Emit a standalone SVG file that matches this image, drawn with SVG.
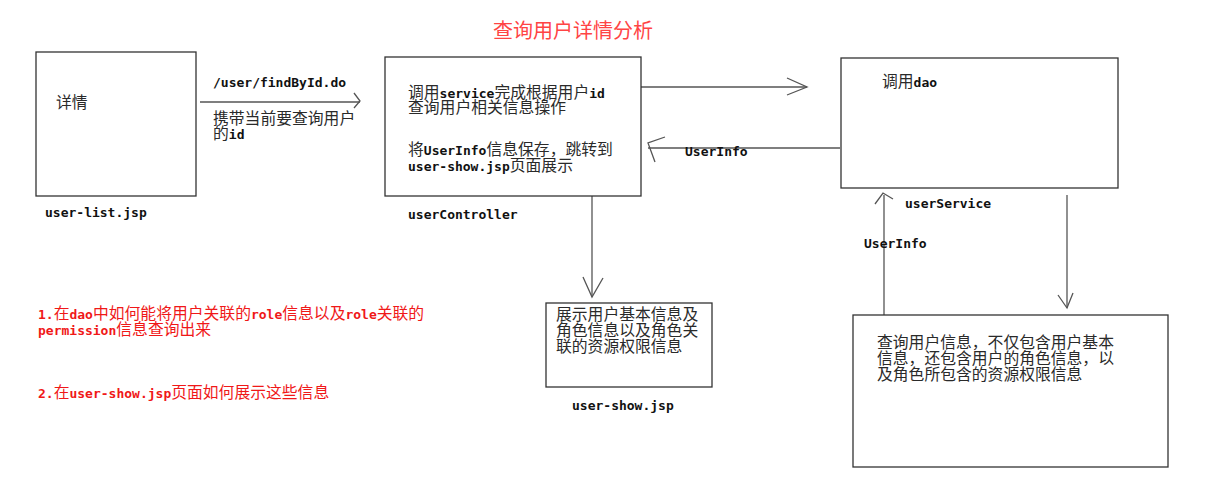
<svg xmlns="http://www.w3.org/2000/svg" width="1205" height="489" viewBox="0 0 1205 489">
<style>
.box{fill:#fff;stroke:#333;stroke-width:1.3}
.ln{fill:none;stroke:#555;stroke-width:1.3}
.cn{font-family:"Noto Sans CJK SC","DejaVu Sans",sans-serif;font-size:15.8px;fill:#2a2a2a}
.m{font-family:"DejaVu Sans Mono","Liberation Mono",monospace;font-weight:bold;font-size:13px;fill:#111}
.red{fill:#f01818}
.mr{font-family:"DejaVu Sans Mono","Liberation Mono",monospace;font-weight:bold;font-size:13px}
</style>
<rect width="1205" height="489" fill="#fff"/>
<text x="493" y="38" font-family="'Noto Sans CJK SC',sans-serif" font-size="20" fill="#f44">查询用户详情分析</text>
<g id="connectors">
<line class="ln" x1="200" y1="102" x2="360" y2="102"/>
<polyline class="ln" points="354,93 360,101 354,108"/>
<line class="ln" x1="641" y1="87" x2="807" y2="87"/>
<polyline class="ln" points="787,78 807,87 787,95"/>
<line class="ln" x1="648" y1="148" x2="840" y2="148"/>
<polyline class="ln" points="665,137 648,143 655,162"/>
<line class="ln" x1="592" y1="186" x2="592" y2="297"/>
<polyline class="ln" points="583,277 592,297 603,278"/>
<line class="ln" x1="884" y1="315" x2="884" y2="195"/>
<polyline class="ln" points="875,204 883,193 893,199"/>
<line class="ln" x1="1067" y1="195" x2="1067" y2="308"/>
<polyline class="ln" points="1058,295 1067,308 1073,293"/>
<text class="m" x="213" y="87">/user/findById.do</text>
<text class="cn" x="213" y="124">携带当前要查询用户</text>
<text x="213" y="139"><tspan class="cn">的</tspan><tspan class="m">id</tspan></text>
<text class="m" x="685" y="156" fill="#333">UserInfo</text>
<text class="m" x="864" y="248">UserInfo</text>
</g>
<g id="user-list">
<rect class="box" x="36" y="52" width="160" height="144"/>
<text class="cn" x="56" y="108">详情</text>
<text class="m" x="45" y="217">user-list.jsp</text>
</g>
<g id="userController">
<rect class="box" x="385" y="57" width="256" height="139"/>
<text x="408" y="98"><tspan class="cn">调用</tspan><tspan class="m">service</tspan><tspan class="cn">完成根据用户</tspan><tspan class="m">id</tspan></text>
<text class="cn" x="408" y="113">查询用户相关信息操作</text>
<text x="408" y="155"><tspan class="cn">将</tspan><tspan class="m">UserInfo</tspan><tspan class="cn">信息保存，跳转到</tspan></text>
<text x="408" y="171"><tspan class="m">user-show.jsp</tspan><tspan class="cn">页面展示</tspan></text>
<text class="m" x="408" y="219">userController</text>
</g>
<g id="userService">
<rect class="box" x="841" y="58" width="277" height="130"/>
<text x="882" y="87"><tspan class="cn">调用</tspan><tspan class="m">dao</tspan></text>
<text class="m" x="905" y="208">userService</text>
</g>
<g id="user-show">
<rect class="box" x="546" y="303" width="166" height="84"/>
<text class="cn" x="556" y="320">展示用户基本信息及</text>
<text class="cn" x="556" y="336">角色信息以及角色关</text>
<text class="cn" x="556" y="352">联的资源权限信息</text>
<text class="m" x="572" y="410">user-show.jsp</text>
</g>
<g id="dao">
<rect class="box" x="853" y="315" width="315" height="152"/>
<text class="cn" x="877" y="348">查询用户信息，不仅包含用户基本</text>
<text class="cn" x="877" y="364">信息，还包含用户的角色信息，以</text>
<text class="cn" x="877" y="380">及角色所包含的资源权限信息</text>
</g>
<g id="questions">
<text x="38" y="319" class="red"><tspan class="mr">1.</tspan><tspan class="cn red">在</tspan><tspan class="mr">dao</tspan><tspan class="cn red">中如何能将用户关联的</tspan><tspan class="mr">role</tspan><tspan class="cn red">信息以及</tspan><tspan class="mr">role</tspan><tspan class="cn red">关联的</tspan></text>
<text x="38" y="335" class="red"><tspan class="mr">permission</tspan><tspan class="cn red">信息查询出来</tspan></text>
<text x="38" y="398" class="red"><tspan class="mr">2.</tspan><tspan class="cn red">在</tspan><tspan class="mr">user-show.jsp</tspan><tspan class="cn red">页面如何展示这些信息</tspan></text>
</g>
</svg>
